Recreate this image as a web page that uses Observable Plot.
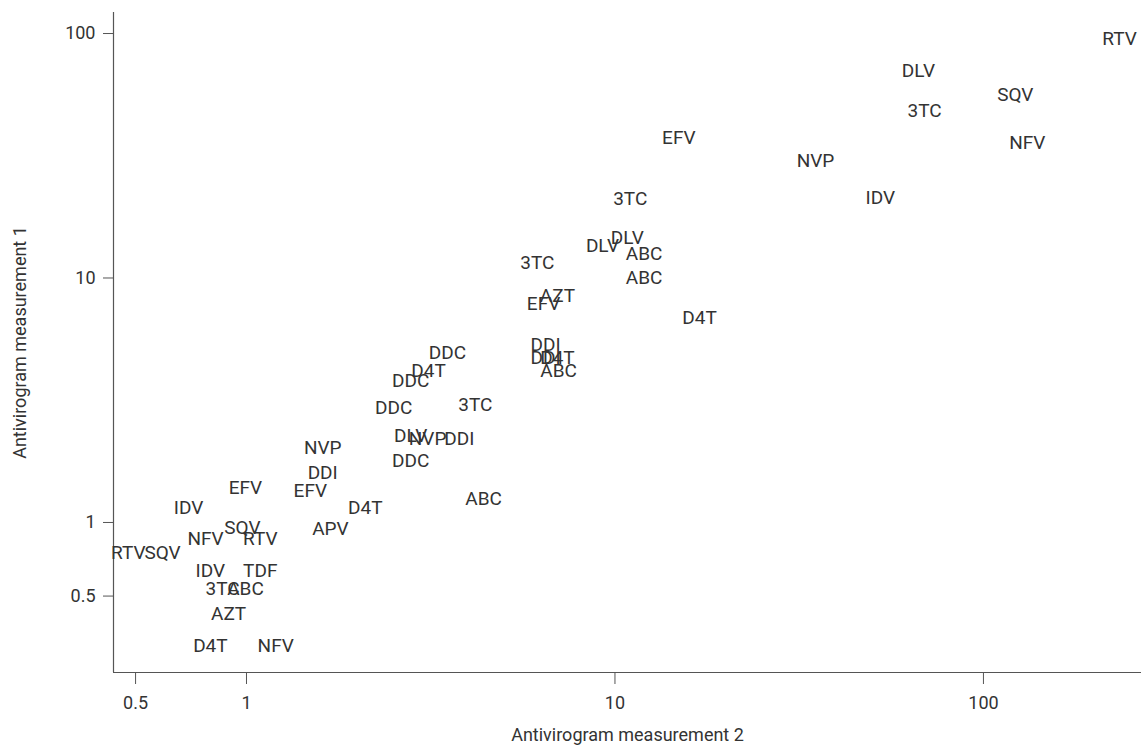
<!DOCTYPE html>
<html>
<head>
<meta charset="utf-8">
<script src="https://cdn.jsdelivr.net/npm/d3@7"></script>
<script src="https://cdn.jsdelivr.net/npm/@observablehq/plot@0.6"></script>
<style>
  html, body { margin: 0; padding: 0; background: #fff; }
  #chart svg { display: block; }
</style>
</head>
<body>
<div id="chart"></div>
<script>
// Drug labels
const drugs = ["RTV","DLV","SQV","3TC","NFV","EFV","NVP","IDV","3TC","DLV",
  "DLV","ABC","ABC","3TC","AZT","EFV","D4T","DDI","DDI","D4T",
  "ABC","DDC","D4T","DDC","DDC","3TC","DLV","NVP","DDI","DDC",
  "NVP","DDI","EFV","D4T","ABC","EFV","IDV","APV","SQV","NFV",
  "RTV","RTV","SQV","IDV","TDF","3TC","ABC","AZT","D4T","NFV"];
// Antivirogram measurement 2 (x)
const measure2 = [234,66.6,122,69.2,131.6,14.9,35.0,52.5,11.0,10.8,
  9.25,12.0,12.0,6.16,6.98,6.40,16.96,6.48,6.48,6.98,
  7.03,3.51,3.12,2.79,2.51,4.18,2.79,3.10,3.78,2.79,
  1.61,1.61,1.49,2.10,4.40,0.994,0.696,1.69,0.975,0.774,
  1.09,0.478,0.592,0.798,1.09,0.861,0.994,0.894,0.798,1.20];
// Antivirogram measurement 1 (y)
const measure1 = [95,70.6,56.3,48.4,35.8,37.5,30.2,21.3,21.1,14.6,
  13.5,12.5,10.05,11.5,8.48,7.87,6.89,5.35,4.73,4.73,
  4.18,4.96,4.18,3.81,2.95,3.04,2.27,2.19,2.19,1.79,
  2.01,1.59,1.35,1.15,1.25,1.38,1.15,0.945,0.954,0.860,
  0.860,0.754,0.754,0.636,0.636,0.537,0.537,0.424,0.314,0.314];
const tickValues = [0.5, 1, 10, 100];
const tickLabels = ["0.5", "1", "10", "100"];
const xDomain = [0.4356, 268.5];
const yDomain = [0.2434, 121.9];

const data = drugs.map((d, i) => ({drug: d, m2: measure2[i], m1: measure1[i]}));
const fmt = d => {
  const i = tickValues.findIndex(v => Math.abs(v - d) < 1e-6 * v);
  return i >= 0 ? tickLabels[i] : "";
};

const chart = Plot.plot({
  width: 1141,
  height: 754,
  marginLeft: 113,
  marginTop: 12,
  marginBottom: 82,
  marginRight: 0,
  style: {fontFamily: "Roboto, sans-serif", color: "#333", background: "#fff"},
  x: {type: "log", domain: xDomain},
  y: {type: "log", domain: yDomain},
  marks: [
    Plot.ruleX([xDomain[0]], {stroke: "#555", strokeWidth: 1.2}),
    Plot.ruleY([yDomain[0]], {stroke: "#555", strokeWidth: 1.2}),
    Plot.axisX(tickValues, {
      tickFormat: fmt,
      tickSize: 12, tickPadding: 12,
      fontSize: 18, stroke: "#555", fill: "#333",
      label: "Antivirogram measurement 2", labelAnchor: "center",
      labelOffset: 68, labelArrow: "none"
    }),
    Plot.axisY(tickValues, {
      tickFormat: fmt,
      tickSize: 10, tickPadding: 8,
      fontSize: 18, stroke: "#555", fill: "#333",
      label: "Antivirogram measurement 1", labelAnchor: "center",
      labelOffset: 100, labelArrow: "none"
    }),
    Plot.text(data, {
      x: "m2", y: "m1", text: "drug",
      fontSize: 19, fill: "#333", textAnchor: "middle"
    })
  ]
});
document.getElementById("chart").appendChild(chart);
</script>
</body>
</html>
